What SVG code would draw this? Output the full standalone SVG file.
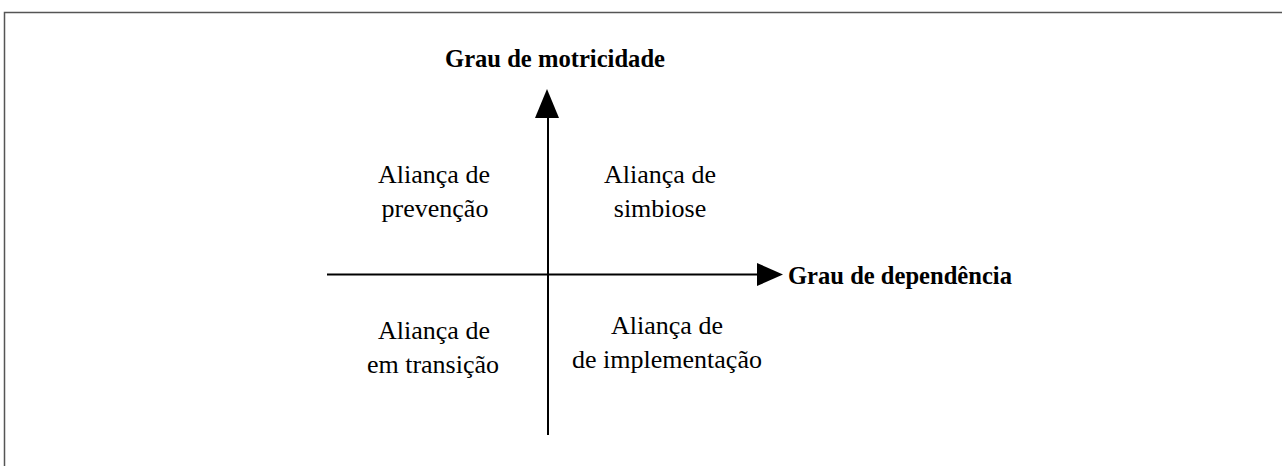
<svg xmlns="http://www.w3.org/2000/svg" width="1282" height="466" viewBox="0 0 1282 466">
<style>
.frame{stroke:#555;stroke-width:1.5;fill:none}
.axis{stroke:#000;stroke-width:2;fill:none}
.head{fill:#000}
.lbl{font-family:"Liberation Serif","Times New Roman",serif;font-size:26px;fill:#000;text-anchor:middle}
.ttl{font-family:"Liberation Serif","Times New Roman",serif;font-size:26px;font-weight:bold;fill:#000}
</style>
<rect width="1282" height="466" fill="#fff"/>
<path class="frame" d="M4.5,466 V12.5 H1282"/>
<g id="connectors">
<line class="axis" x1="548" y1="116" x2="548" y2="435"/>
<polygon class="head" points="547,89 535,118 559,118"/>
<line class="axis" x1="327" y1="274.5" x2="759" y2="274.5"/>
<polygon class="head" points="783,274.5 757,263 757,286"/>
</g>
<g id="y-axis-label"><text class="ttl" x="445" y="67" textLength="220" lengthAdjust="spacingAndGlyphs">Grau de motricidade</text></g>
<g id="x-axis-label"><text class="ttl" x="788" y="284" textLength="224" lengthAdjust="spacingAndGlyphs">Grau de dependência</text></g>
<g id="prevencao"><text class="lbl" x="434" y="183">Aliança de</text><text class="lbl" x="435" y="217">prevenção</text></g>
<g id="simbiose"><text class="lbl" x="660" y="183">Aliança de</text><text class="lbl" x="660" y="217">simbiose</text></g>
<g id="transicao"><text class="lbl" x="434" y="339">Aliança de</text><text class="lbl" x="433" y="373">em transição</text></g>
<g id="implementacao"><text class="lbl" x="667" y="334">Aliança de</text><text class="lbl" x="667" y="368">de implementação</text></g>
</svg>
